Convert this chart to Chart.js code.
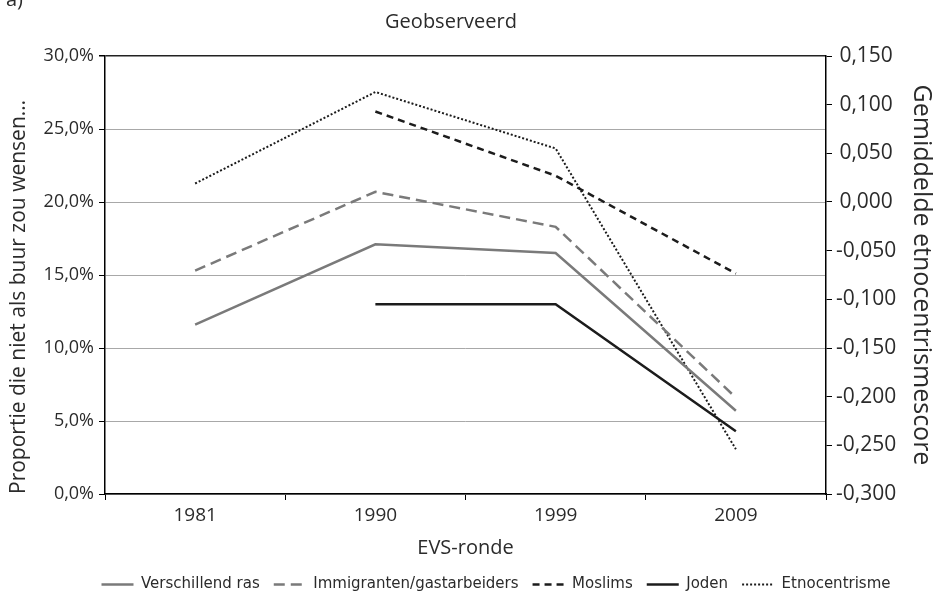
<!DOCTYPE html>
<html>
<head>
<meta charset="utf-8">
<script src="https://cdn.jsdelivr.net/npm/chart.js@4.4.1/dist/chart.umd.min.js"></script>
<style>
  html, body { margin: 0; padding: 0; background: #fff; }
  #wrap { width: 938px; height: 601px; }
</style>
</head>
<body>
<div id="wrap"><canvas id="mainChart" width="938" height="601"></canvas></div>
<script>
const rounds = ['1981', '1990', '1999', '2009'];

// proportions (%) on the left axis
const verschillendRas = [11.6, 17.1, 16.5, 5.7];
const immigranten = [15.3, 20.7, 18.3, 6.6];
const moslims = [null, 26.2, 21.8, 15.1];
const joden = [null, 13.0, 13.0, 4.3];

// mean score on the right axis
const etnocentrisme = [0.019, 0.113, 0.055, -0.254];

const TEXT = '#2b2b2b';
const FONT = 'Open Sans';

const fmtPct = v => v.toFixed(1).replace('.', ',') + '%';
const fmtScore = v => {
    const r = Math.round(v * 1000) / 1000;
    return (r === 0 ? 0 : r).toFixed(3).replace('.', ',');
};

// the small "a)" that is cut off at the top left, and nudges for title and legend
const extras = {
    id: 'extras',
    afterLayout(chart) {
        const lg = chart.legend;
        lg.left += 27;
        lg.right += 27;
        lg.top += 3;
        lg.bottom += 3;
        const tb = chart.titleBlock;
        tb.left -= 18;
        tb.right -= 18;
    },
    afterDraw(chart) {
        const ctx = chart.ctx;
        ctx.save();
        ctx.fillStyle = TEXT;
        ctx.font = '20px "' + FONT + '"';
        ctx.textBaseline = 'alphabetic';
        ctx.fillText('a)', 6, 6);
        ctx.restore();
    }
};

const ctx = document.getElementById('mainChart').getContext('2d');

new Chart(ctx, {
    type: 'line',
    data: {
        labels: rounds,
        datasets: [
            {
                label: 'Verschillend ras',
                data: verschillendRas,
                borderColor: '#7a7a7a',
                borderWidth: 2.5,
                yAxisID: 'y'
            },
            {
                label: 'Immigranten/gastarbeiders',
                data: immigranten,
                borderColor: '#7a7a7a',
                borderWidth: 2.5,
                borderDash: [11, 6],
                yAxisID: 'y'
            },
            {
                label: 'Moslims',
                data: moslims,
                borderColor: '#1c1c1c',
                borderWidth: 2.5,
                borderDash: [7, 5],
                yAxisID: 'y'
            },
            {
                label: 'Joden',
                data: joden,
                borderColor: '#1c1c1c',
                borderWidth: 2.5,
                yAxisID: 'y'
            },
            {
                label: 'Etnocentrisme',
                data: etnocentrisme,
                borderColor: '#1c1c1c',
                borderWidth: 2,
                borderDash: [2, 2],
                yAxisID: 'y1'
            }
        ]
    },
    options: {
        responsive: false,
        animation: false,
        elements: {
            point: { radius: 0, hoverRadius: 0 },
            line: { tension: 0, fill: false, borderCapStyle: 'butt' }
        },
        layout: { padding: { top: 0, left: 0, right: 0, bottom: 2 } },
        plugins: {
            tooltip: { enabled: false },
            title: {
                display: true,
                text: 'Geobserveerd',
                color: TEXT,
                font: { family: FONT, size: 20, weight: 'normal' },
                padding: { top: 10, bottom: 22 }
            },
            legend: {
                position: 'bottom',
                labels: {
                    usePointStyle: true,
                    pointStyle: 'line',
                    pointStyleWidth: 32,
                    color: TEXT,
                    padding: 14,
                    font: { family: 'DejaVu Sans', size: 15 },
                    generateLabels(chart) {
                        const items = Chart.defaults.plugins.legend.labels.generateLabels(chart);
                        items.forEach((item, i) => {
                            const ds = chart.data.datasets[i];
                            item.pointStyle = 'line';
                            item.strokeStyle = ds.borderColor;
                            item.lineWidth = ds.borderWidth;
                            item.lineDash = ds.borderDash || [];
                        });
                        return items;
                    }
                }
            }
        },
        scales: {
            x: {
                offset: true,
                grid: {
                    offset: true,
                    drawOnChartArea: false,
                    tickLength: 6,
                    tickColor: '#000',
                    color: '#000'
                },
                border: { color: '#000', width: 1.5 },
                ticks: {
                    color: TEXT,
                    padding: 4,
                    font: { family: FONT, size: 19 }
                },
                title: {
                    display: true,
                    text: 'EVS-ronde',
                    color: TEXT,
                    font: { family: FONT, size: 20 },
                    padding: { top: 6, bottom: 0 }
                },
                afterFit(scale) { scale.height = 66; }
            },
            y: {
                position: 'left',
                min: 0,
                max: 30,
                grid: {
                    color: ctx => (ctx.tick && ctx.tick.value === 30) ? '#222' : '#a8a8a8',
                    lineWidth: ctx => (ctx.tick && ctx.tick.value === 30) ? 1.5 : 1,
                    tickLength: 6,
                    tickColor: '#000'
                },
                border: { color: '#000', width: 1.5 },
                ticks: {
                    stepSize: 5,
                    color: TEXT,
                    padding: 5,
                    font: { family: FONT, size: 18 },
                    callback: v => fmtPct(v)
                },
                title: {
                    display: true,
                    text: 'Proportie die niet als buur zou wensen…',
                    align: 'start',
                    color: TEXT,
                    font: { family: FONT, size: 21 },
                    padding: { top: 6, bottom: 0 }
                },
                afterFit(scale) { scale.width = 105; }
            },
            y1: {
                position: 'right',
                min: -0.3,
                max: 0.15,
                grid: {
                    drawOnChartArea: false,
                    tickLength: 6,
                    tickColor: '#000'
                },
                border: { color: '#000', width: 1.5 },
                ticks: {
                    stepSize: 0.05,
                    color: TEXT,
                    padding: 4,
                    crossAlign: 'center',
                    font: { family: FONT, size: 21 },
                    callback: v => fmtScore(v)
                },
                title: {
                    display: true,
                    text: 'Gemiddelde etnocentrismescore',
                    color: TEXT,
                    font: { family: FONT, size: 25 },
                    padding: { top: 2, bottom: 0 }
                },
                afterFit(scale) { scale.width = 112; }
            }
        }
    },
    plugins: [extras]
});
</script>
</body>
</html>
